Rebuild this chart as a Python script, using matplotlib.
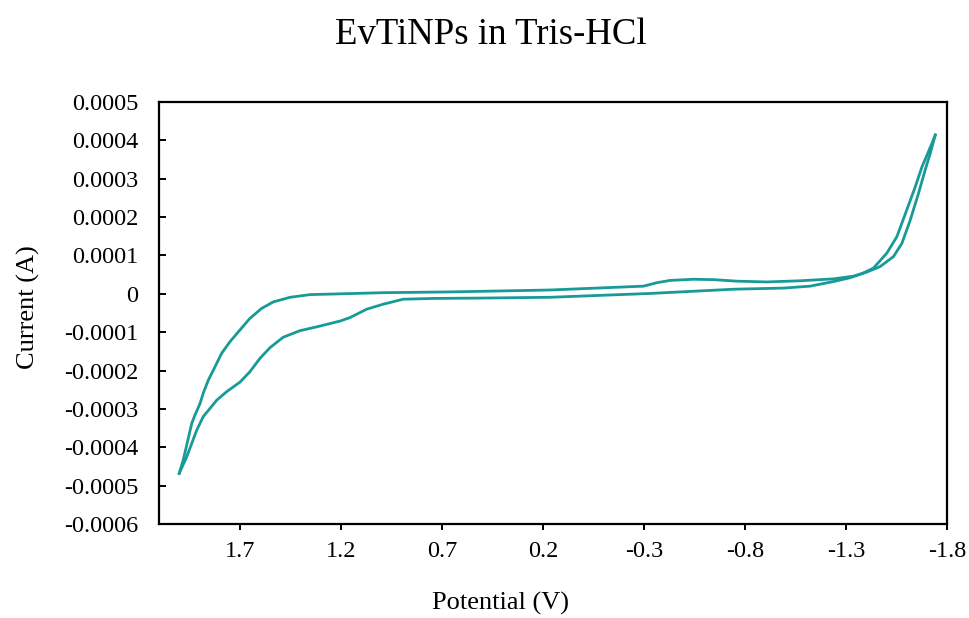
import matplotlib.pyplot as plt

plt.rcParams['font.family'] = ['Liberation Serif', 'DejaVu Serif']

# forward sweep (upper branch on the left side), potential in V, current in A
fwd_v = [2.000, 1.980, 1.938, 1.922, 1.897, 1.881, 1.856, 1.831, 1.790, 1.749,
         1.699, 1.650, 1.592, 1.534, 1.451, 1.352, 1.237, 0.990, 0.659, 0.164,
         -0.298, -0.364, -0.430, -0.545, -0.644, -0.760, -0.908, -1.073, -1.238,
         -1.337, -1.400, -1.469, -1.535, -1.577, -1.618, -1.659, -1.692, -1.717, -1.742]
fwd_i = [-4.68e-4, -4.33e-4, -3.38e-4, -3.16e-4, -2.86e-4, -2.59e-4, -2.25e-4,
         -1.99e-4, -1.55e-4, -1.25e-4, -0.94e-4, -0.64e-4, -0.38e-4, -0.21e-4,
         -0.09e-4, -0.02e-4, -0.005e-4, 0.03e-4, 0.05e-4, 0.10e-4, 0.20e-4,
         0.29e-4, 0.35e-4, 0.38e-4, 0.37e-4, 0.33e-4, 0.31e-4, 0.34e-4, 0.39e-4,
         0.46e-4, 0.56e-4, 0.71e-4, 0.97e-4, 1.32e-4, 1.92e-4, 2.62e-4, 3.23e-4,
         3.66e-4, 4.14e-4]

# return sweep (lower branch on the left side)
rev_v = [2.000, 1.963, 1.913, 1.881, 1.814, 1.765, 1.699, 1.650, 1.600, 1.550,
         1.485, 1.402, 1.319, 1.204, 1.155, 1.072, 0.990, 0.891, 0.742, 0.495,
         0.164, -0.331, -0.743, -0.991, -1.123, -1.238, -1.321, -1.380, -1.436,
         -1.502, -1.552, -1.601, -1.643, -1.676, -1.708, -1.742]
rev_i = [-4.68e-4, -4.25e-4, -3.55e-4, -3.20e-4, -2.77e-4, -2.55e-4, -2.30e-4,
         -2.03e-4, -1.68e-4, -1.40e-4, -1.13e-4, -0.96e-4, -0.86e-4, -0.71e-4,
         -0.62e-4, -0.40e-4, -0.27e-4, -0.14e-4, -0.12e-4, -0.11e-4, -0.09e-4,
         0.01e-4, 0.12e-4, 0.15e-4, 0.20e-4, 0.32e-4, 0.42e-4, 0.53e-4, 0.67e-4,
         1.06e-4, 1.49e-4, 2.19e-4, 2.79e-4, 3.31e-4, 3.70e-4, 4.14e-4]

x_ticks = [1.7, 1.2, 0.7, 0.2, -0.3, -0.8, -1.3, -1.8]
y_ticks = [0.0005, 0.0004, 0.0003, 0.0002, 0.0001, 0, -0.0001, -0.0002,
           -0.0003, -0.0004, -0.0005, -0.0006]
y_labels = ['0.0005', '0.0004', '0.0003', '0.0002', '0.0001', '0', '-0.0001',
            '-0.0002', '-0.0003', '-0.0004', '-0.0005', '-0.0006']

fig = plt.figure(figsize=(9.7, 6.18), dpi=100)
ax = fig.add_axes([0.1639, 0.152, 0.8124, 0.683])

line_color = '#189a98'
ax.plot(fwd_v, fwd_i, color=line_color, lw=2)
ax.plot(rev_v, rev_i, color=line_color, lw=2)

ax.set_xlim(2.1, -1.8)
ax.set_ylim(-0.0006, 0.0005)
ax.set_xticks(x_ticks)
ax.set_xticklabels([str(v) for v in x_ticks])
ax.set_yticks(y_ticks)
ax.set_yticklabels(y_labels)

ax.tick_params(axis='x', direction='out', length=4.5, width=1.4, pad=8, labelsize=17.5)
ax.tick_params(axis='y', direction='in', length=5, width=1.4, pad=15, labelsize=17.5)
for s in ax.spines.values():
    s.set_linewidth(1.6)

ax.set_xlabel('Potential (V)', fontsize=19)
ax.xaxis.set_label_coords(0.434, -0.16)
ax.set_ylabel('Current (A)', fontsize=19)
ax.yaxis.set_label_coords(-0.151, 0.514)

fig.text(0.506, 0.943, 'EvTiNPs in Tris-HCl', fontsize=26.5, ha='center', va='center')

plt.savefig('out.png', dpi=100)
